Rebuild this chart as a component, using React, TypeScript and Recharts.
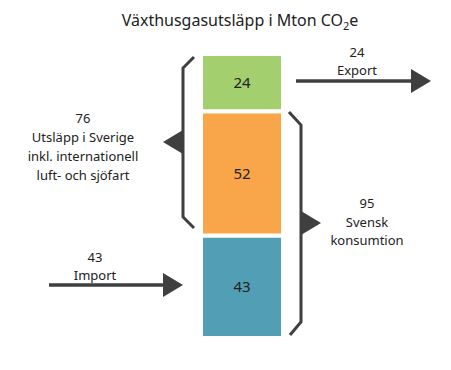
import React from 'react';
import { BarChart, Bar, XAxis, YAxis, LabelList } from 'recharts';

const categories = ['Växthusgasutsläpp'];
const importValues = [43];
const domesticValues = [52];
const exportValues = [24];
const title = 'Växthusgasutsläpp i Mton CO';
const titleSub = '2';
const titleEnd = 'e';
const leftLabel = ['76', 'Utsläpp i Sverige', 'inkl. internationell', 'luft- och sjöfart'];
const rightLabel = ['95', 'Svensk', 'konsumtion'];
const exportLabel = ['24', 'Export'];
const importLabel = ['43', 'Import'];

const data = categories.map((c, i) => ({
  name: c,
  imp: importValues[i],
  dom: domesticValues[i],
  exp: exportValues[i],
}));

const W = 451;
const H = 370;
const FONT = '"Noto Sans", sans-serif';
const DARK = '#3f3f3f';
const TXT = '#222';

const Arrow = ({ x1, x2, y }: { x1: number; x2: number; y: number }) => (
  <g>
    <line x1={x1} y1={y} x2={x2 - 18} y2={y} stroke={DARK} strokeWidth={3.5} />
    <polygon points={`${x2 - 20},${y - 12} ${x2},${y} ${x2 - 20},${y + 12}`} fill={DARK} />
  </g>
);

export default function App() {
  return (
    <div style={{ position: 'absolute', left: 0, top: 0, width: W, height: H, background: '#fff' }}>
      <BarChart
        width={W}
        height={H}
        data={data}
        margin={{ top: 54, bottom: 32, left: 201, right: 168 }}
        barCategoryGap={0}
      >
        <XAxis dataKey="name" hide />
        <YAxis hide domain={[0, 119]} />
        <Bar dataKey="imp" stackId="a" fill="#529EB4" stroke="#fff" strokeWidth={4} isAnimationActive={false}>
          <LabelList dataKey="imp" position="center" fill={TXT} fontSize={15} fontFamily={FONT} />
        </Bar>
        <Bar dataKey="dom" stackId="a" fill="#F9A64A" stroke="#fff" strokeWidth={4} isAnimationActive={false}>
          <LabelList dataKey="dom" position="center" fill={TXT} fontSize={15} fontFamily={FONT} />
        </Bar>
        <Bar dataKey="exp" stackId="a" fill="#A3CF6E" stroke="#fff" strokeWidth={4} isAnimationActive={false}>
          <LabelList dataKey="exp" position="center" fill={TXT} fontSize={15} fontFamily={FONT} />
        </Bar>
      </BarChart>
      <svg width={W} height={H} style={{ position: 'absolute', left: 0, top: 0, pointerEvents: 'none' }}>
        <text x={240} y={26} textAnchor="middle" fontSize={16} fontFamily={FONT} fill={TXT}>
          {title}
          <tspan fontSize={11} dy={4}>{titleSub}</tspan>
          <tspan dy={-4}>{titleEnd}</tspan>
        </text>
        {/* left bracket */}
        <polyline points="194,57 183,68 183,217 194,228" fill="none" stroke={DARK} strokeWidth={3} />
        <polygon points="183,130 163,142 183,154" fill={DARK} />
        {/* right bracket */}
        <polyline points="289,112 301,125 301,322 290,335" fill="none" stroke={DARK} strokeWidth={3} />
        <polygon points="301,211 321,223 301,235" fill={DARK} />
        <Arrow x1={296} x2={431} y={81} />
        <Arrow x1={49} x2={183} y={285} />
        {leftLabel.map((t, i) => (
          <text key={i} x={83} y={123 + i * 19} textAnchor="middle" fontSize={13} fontFamily={FONT} fill={TXT}>{t}</text>
        ))}
        {rightLabel.map((t, i) => (
          <text key={i} x={367} y={208 + i * 18.5} textAnchor="middle" fontSize={13} fontFamily={FONT} fill={TXT}>{t}</text>
        ))}
        {exportLabel.map((t, i) => (
          <text key={i} x={357} y={57 + i * 18} textAnchor="middle" fontSize={13} fontFamily={FONT} fill={TXT}>{t}</text>
        ))}
        {importLabel.map((t, i) => (
          <text key={i} x={95} y={262 + i * 18} textAnchor="middle" fontSize={13} fontFamily={FONT} fill={TXT}>{t}</text>
        ))}
      </svg>
    </div>
  );
}
